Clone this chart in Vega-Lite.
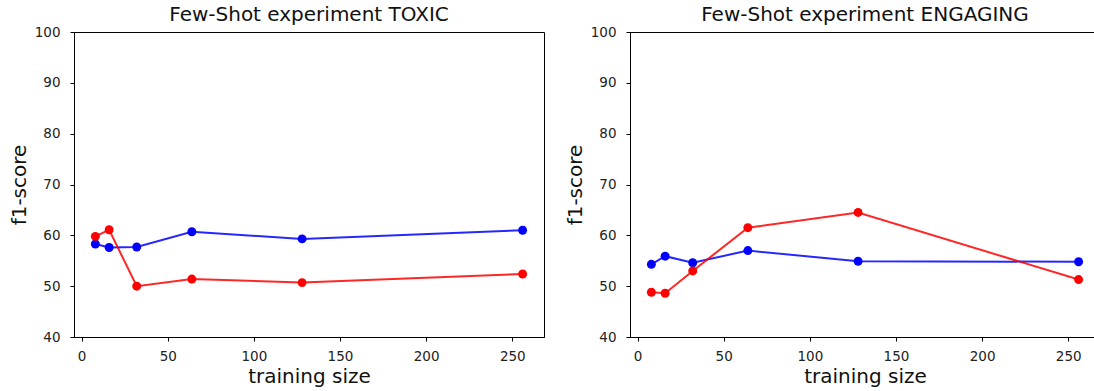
{
  "$schema": "https://vega.github.io/schema/vega-lite/v6.json",
  "padding": {"left": 8, "top": 4, "right": 0, "bottom": 0},
  "background": "white",
  "bounds": "flush",
  "spacing": 86,
  "config": {
    "font": "DejaVu Sans",
    "view": {"stroke": "#000", "strokeWidth": 1},
    "axis": {
      "grid": false,
      "domainColor": "#000",
      "tickColor": "#000",
      "tickSize": 4,
      "labelFont": "DejaVu Sans",
      "labelFontSize": 13.5,
      "labelColor": "#222",
      "titleFont": "DejaVu Sans",
      "titleFontSize": 20,
      "titleFontWeight": "normal",
      "titleColor": "#111"
    },
    "title": {"font": "DejaVu Sans", "fontSize": 20, "fontWeight": "normal", "color": "#111", "offset": 3, "dy": 3}
  },
  "datasets": {
    "scores": [
      {"panel": "TOXIC", "series": "series1", "size": 8, "f1": 58.3},
      {"panel": "TOXIC", "series": "series1", "size": 16, "f1": 57.6},
      {"panel": "TOXIC", "series": "series1", "size": 32, "f1": 57.7},
      {"panel": "TOXIC", "series": "series1", "size": 64, "f1": 60.7},
      {"panel": "TOXIC", "series": "series1", "size": 128, "f1": 59.3},
      {"panel": "TOXIC", "series": "series1", "size": 256, "f1": 61.0},
      {"panel": "TOXIC", "series": "series2", "size": 8, "f1": 59.8},
      {"panel": "TOXIC", "series": "series2", "size": 16, "f1": 61.1},
      {"panel": "TOXIC", "series": "series2", "size": 32, "f1": 50.0},
      {"panel": "TOXIC", "series": "series2", "size": 64, "f1": 51.4},
      {"panel": "TOXIC", "series": "series2", "size": 128, "f1": 50.7},
      {"panel": "TOXIC", "series": "series2", "size": 256, "f1": 52.4},
      {"panel": "ENGAGING", "series": "series1", "size": 8, "f1": 54.3},
      {"panel": "ENGAGING", "series": "series1", "size": 16, "f1": 55.9},
      {"panel": "ENGAGING", "series": "series1", "size": 32, "f1": 54.6},
      {"panel": "ENGAGING", "series": "series1", "size": 64, "f1": 57.0},
      {"panel": "ENGAGING", "series": "series1", "size": 128, "f1": 54.9},
      {"panel": "ENGAGING", "series": "series1", "size": 256, "f1": 54.8},
      {"panel": "ENGAGING", "series": "series2", "size": 8, "f1": 48.8},
      {"panel": "ENGAGING", "series": "series2", "size": 16, "f1": 48.6},
      {"panel": "ENGAGING", "series": "series2", "size": 32, "f1": 53.0},
      {"panel": "ENGAGING", "series": "series2", "size": 64, "f1": 61.5},
      {"panel": "ENGAGING", "series": "series2", "size": 128, "f1": 64.5},
      {"panel": "ENGAGING", "series": "series2", "size": 256, "f1": 51.3}
    ]
  },
  "hconcat": [
    {
      "width": 470,
      "height": 305,
      "title": "Few-Shot experiment TOXIC",
      "data": {"name": "scores"},
      "transform": [{"filter": "datum.panel === 'TOXIC'"}],
      "mark": {"type": "line", "strokeWidth": 2, "opacity": 0.85, "point": {"filled": true, "size": 80, "opacity": 1}},
      "encoding": {
        "x": {"field": "size", "type": "quantitative", "title": "training size",
              "scale": {"domain": [-4.4, 268.4], "nice": false, "zero": false},
              "axis": {"values": [0, 50, 100, 150, 200, 250], "labelPadding": 8, "titlePadding": 4}},
        "y": {"field": "f1", "type": "quantitative", "title": "f1-score",
              "scale": {"domain": [40, 100], "nice": false},
              "axis": {"values": [40, 50, 60, 70, 80, 90, 100], "labelPadding": 10, "titlePadding": 5}},
        "color": {"field": "series", "type": "nominal", "legend": null,
                  "scale": {"domain": ["series1", "series2"], "range": ["#0000ff", "#ff0000"]}}
      }
    },
    {
      "width": 466,
      "height": 305,
      "title": {"text": "Few-Shot experiment ENGAGING", "dx": 2},
      "data": {"name": "scores"},
      "transform": [{"filter": "datum.panel === 'ENGAGING'"}],
      "mark": {"type": "line", "strokeWidth": 2, "opacity": 0.85, "point": {"filled": true, "size": 80, "opacity": 1}},
      "encoding": {
        "x": {"field": "size", "type": "quantitative", "title": "training size",
              "scale": {"domain": [-4.4, 266.1], "nice": false, "zero": false},
              "axis": {"values": [0, 50, 100, 150, 200, 250], "labelPadding": 8, "titlePadding": 4, "titleX": 235}},
        "y": {"field": "f1", "type": "quantitative", "title": "f1-score",
              "scale": {"domain": [40, 100], "nice": false},
              "axis": {"values": [40, 50, 60, 70, 80, 90, 100], "labelPadding": 10, "titlePadding": 5}},
        "color": {"field": "series", "type": "nominal", "legend": null,
                  "scale": {"domain": ["series1", "series2"], "range": ["#0000ff", "#ff0000"]}}
      }
    }
  ]
}
